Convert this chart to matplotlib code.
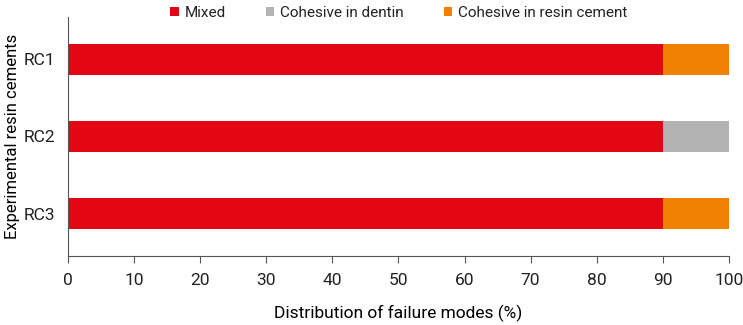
import numpy as np
import matplotlib.pyplot as plt

# Dane
groups = ['RC1', 'RC2', 'RC3']
mixed = [90, 90, 90]
dentin = [0, 10, 0]
resin = [10, 0, 10]
labels = ['Mixed', 'Cohesive in dentin', 'Cohesive in resin cement']
colors = ['#E30613', '#B3B3B3', '#F08000']

plt.rcParams['font.family'] = ['Roboto', 'DejaVu Sans']
plt.rcParams['text.color'] = '#222222'

fig = plt.figure(figsize=(7.43, 3.25), dpi=100)
ax = fig.add_axes([0.0915, 0.2123, 0.8895, 0.7354])

y = np.arange(len(groups))
left = np.zeros(len(groups))
for vals, lab, col in zip([mixed, dentin, resin], labels, colors):
    ax.barh(y, vals, left=left, height=0.4, color=col, label=lab)
    left += np.array(vals)

ax.set_yticks(y)
ax.set_yticklabels(groups, fontsize=12.5, color='#222222')
ax.set_ylim(2.55, -0.55)
ax.set_xlim(0, 100)
ax.set_xticks(np.arange(0, 101, 10))
ax.tick_params(axis='x', labelsize=12.5, labelcolor='#222222', length=5, color='#555555', pad=7)
ax.tick_params(axis='y', length=0, pad=9)
for s in ['top', 'right']:
    ax.spines[s].set_visible(False)
for s in ['left', 'bottom']:
    ax.spines[s].set_color('#555555')
ax.set_xlabel('Distribution of failure modes (%)', fontsize=12.5, labelpad=12)
ax.set_ylabel('Experimental resin cements', fontsize=12, labelpad=3)

fig.legend(loc='upper center', bbox_to_anchor=(0.537, 1.025), ncol=3, frameon=False,
           fontsize=11, handlelength=0.55, handleheight=0.55, columnspacing=2.6,
           handletextpad=0.4)

fig.savefig('out.png', dpi=100)
